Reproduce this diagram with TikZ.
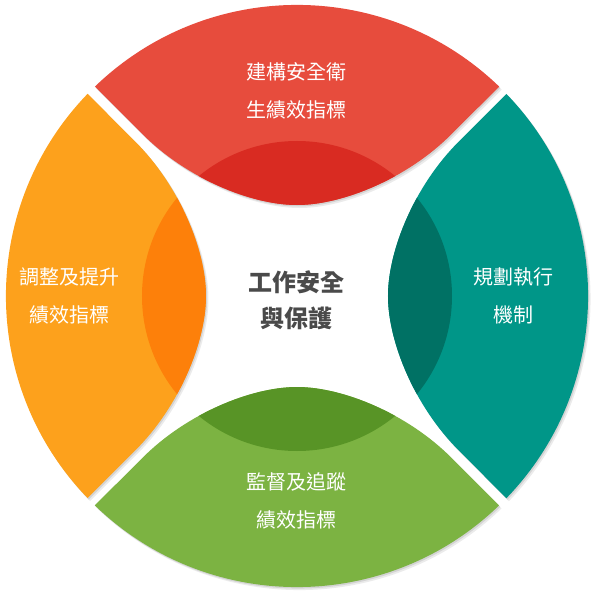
\documentclass[tikz,border=0pt]{standalone}
\usepackage{fontspec}
\newfontfamily\cjk{Noto Sans CJK TC}
\usepackage{tikz}

\definecolor{redlight}{HTML}{E74C3D}
\definecolor{reddark}{HTML}{D92B22}
\definecolor{orangelight}{HTML}{FDA11C}
\definecolor{orangedark}{HTML}{FD800A}
\definecolor{teallight}{HTML}{009688}
\definecolor{tealdark}{HTML}{007164}
\definecolor{greenlight}{HTML}{7CB342}
\definecolor{greendark}{HTML}{589426}
\definecolor{coregray}{HTML}{4A4A4A}

\tikzset{
  petal path/.style={insert path={(-202.1,209.4) arc[start angle=134, end angle=46, radius=291]
      -- (155,162.3) .. controls (110,117) and (45,91) .. (0,91)
      .. controls (-45,91) and (-110,117) .. (-155,162.3) -- cycle}},
  petaltext/.style={font=\cjk\fontsize{20}{38}\selectfont, text=white, align=center},
}

\begin{document}
\begin{tikzpicture}[x=1pt, y=1pt]
\useasboundingbox (-297,-304) rectangle (303,296);
\foreach \ang/\light/\dark in {0/redlight/reddark, 90/orangelight/orangedark,
                               180/greenlight/greendark, 270/teallight/tealdark}{
  \fill[black, opacity=.08, shift={(2.5,-3)}, rotate=\ang, petal path];
  \fill[black, opacity=.10, shift={(1.2,-1.5)}, rotate=\ang, petal path];
  \fill[\light, rotate=\ang, petal path];
  \begin{scope}[rotate=\ang]
    \clip[petal path];
    \fill[\dark] (0,0) circle[radius=155];
  \end{scope}
}
\node[petaltext] (build) at (0,205) {建構安全衛\\生績效指標};
\node[petaltext] (adjust) at (-227,0) {調整及提升\\績效指標};
\node[petaltext] (plan) at (216,0) {規劃執行\\機制};
\node[petaltext] (monitor) at (0,-205) {監督及追蹤\\績效指標};
\node[font=\cjk\bfseries\fontsize{24}{36}\selectfont, text=coregray, align=center] (core) at (0,-4) {工作安全\\與保護};
\end{tikzpicture}
\end{document}
